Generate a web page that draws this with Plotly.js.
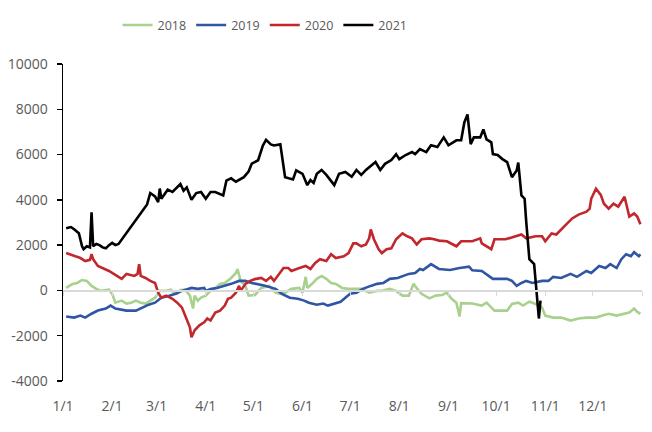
<!DOCTYPE html>
<html>
<head>
<meta charset="utf-8">
<script src="https://cdn.plot.ly/plotly-3.0.1.min.js"></script>
<style>html,body{margin:0;padding:0;background:#fff;}#chart{width:652px;height:432px;}</style>
</head>
<body>
<div id="chart"></div>
<script>
// Series names
const seriesNames = ["2018", "2019", "2020", "2021"];

// 2018
const dates2018 = ["01-03","01-07","01-10","01-13","01-16","01-19","01-22","01-25","01-30","02-01","02-03","02-07","02-10","02-13","02-16","02-19","02-22","02-25","02-28","03-03","03-07","03-10","03-12","03-14","03-16","03-19","03-22","03-24","03-25","03-27","03-29","04-01","04-04","04-07","04-10","04-13","04-17","04-20","04-21","04-23","04-26","04-28","05-02","05-06","05-11","05-15","05-18","05-21","05-25","05-30","06-01","06-03","06-04","06-07","06-10","06-13","06-16","06-19","06-22","06-26","06-30","07-05","07-08","07-13","07-18","07-21","07-26","07-30","08-03","08-07","08-10","08-12","08-15","08-20","08-24","08-28","08-31","09-03","09-06","09-08","09-09","09-16","09-22","09-25","09-30","10-08","10-11","10-15","10-18","10-22","10-26","10-30","11-01","11-06","11-11","11-17","11-22","11-27","12-03","12-07","12-11","12-16","12-19","12-24","12-27","12-29","12-31"];
const values2018 = [110,290,330,460,420,200,70,-20,30,-150,-540,-450,-580,-540,-450,-540,-580,-450,-320,-20,-20,30,-100,-150,20,30,-230,-800,-230,-450,-320,-230,-20,110,290,330,550,770,940,420,200,-230,-200,110,200,-100,-150,-100,70,110,-100,600,110,290,510,640,510,330,290,110,70,70,70,-100,-20,-20,70,-20,-230,-230,290,100,-150,-350,-230,-200,-100,-370,-540,-1150,-560,-580,-670,-540,-890,-890,-600,-540,-670,-500,-600,-760,-1110,-1200,-1200,-1330,-1240,-1200,-1200,-1110,-1030,-1110,-1050,-980,-800,-950,-1030];

// 2019
const dates2019 = ["01-03","01-08","01-12","01-15","01-19","01-23","01-28","01-31","02-03","02-10","02-16","02-20","02-24","02-28","03-04","03-09","03-13","03-17","03-23","03-27","03-31","04-01","04-04","04-08","04-13","04-17","04-22","04-26","04-30","05-03","05-09","05-15","05-19","05-24","05-29","06-02","06-05","06-10","06-14","06-17","06-21","06-25","06-28","07-01","07-05","07-09","07-14","07-18","07-22","07-26","07-31","08-03","08-07","08-11","08-14","08-16","08-21","08-26","09-02","09-08","09-14","09-16","09-22","09-29","10-08","10-11","10-14","10-17","10-20","10-24","10-30","11-03","11-06","11-11","11-17","11-21","11-27","11-30","12-05","12-09","12-12","12-16","12-19","12-22","12-25","12-27","12-30","12-31"];
const values2019 = [-1150,-1200,-1110,-1200,-1030,-890,-800,-670,-800,-890,-890,-760,-630,-540,-320,-230,-150,-20,110,70,110,-20,60,110,200,290,420,420,330,290,200,70,-150,-320,-370,-450,-540,-630,-580,-670,-580,-500,-320,-150,-100,70,200,290,330,510,550,640,730,770,950,900,1160,950,900,990,1050,890,860,510,510,420,200,330,420,330,420,420,600,550,730,600,860,770,1080,990,1160,990,1380,1600,1510,1690,1510,1600];

// 2020
const dates2020 = ["01-03","01-08","01-12","01-15","01-18","01-19","01-20","01-23","01-30","02-04","02-07","02-10","02-15","02-17","02-18","02-19","02-22","02-25","02-28","03-02","03-04","03-07","03-11","03-14","03-17","03-19","03-22","03-23","03-25","03-28","03-31","04-02","04-04","04-07","04-10","04-13","04-15","04-17","04-20","04-22","04-23","04-26","04-29","05-02","05-06","05-09","05-12","05-14","05-17","05-20","05-23","05-25","05-30","06-03","06-06","06-09","06-12","06-16","06-19","06-22","06-27","06-30","07-03","07-05","07-08","07-11","07-13","07-14","07-16","07-19","07-21","07-24","07-27","07-30","08-03","08-06","08-09","08-12","08-15","08-20","08-23","08-26","08-31","09-06","09-09","09-16","09-21","09-22","09-28","09-30","10-07","10-14","10-17","10-20","10-26","10-30","11-01","11-05","11-08","11-13","11-18","11-22","11-27","11-29","11-30","12-03","12-06","12-08","12-11","12-14","12-17","12-21","12-23","12-24","12-27","12-29","12-31"];
const values2020 = [1650,1510,1430,1300,1350,1600,1380,1080,860,640,510,730,640,730,1160,640,550,420,330,-100,-320,-230,-370,-540,-760,-1110,-1630,-2070,-1760,-1540,-1410,-1240,-1330,-980,-890,-670,-370,-320,-100,200,-20,290,420,500,550,420,600,420,730,990,990,860,990,1080,950,1210,1380,1300,1600,1430,1510,1650,2080,2080,1950,2030,2300,2690,2260,1820,1650,1820,1860,2260,2520,2390,2300,2030,2260,2300,2260,2200,2170,1950,2170,2170,2300,2080,1820,2260,2260,2390,2470,2300,2390,2390,2170,2520,2470,2830,3180,3350,3480,3610,4050,4490,4220,3830,3610,3830,3700,4140,3610,3260,3400,3260,2920];

// 2021
const dates2021 = ["01-03","01-06","01-08","01-11","01-13","01-14","01-16","01-18","01-19","01-20","01-22","01-24","01-26","01-28","01-30","02-01","02-03","02-05","02-23","02-25","02-28","03-02","03-03","03-04","03-08","03-11","03-16","03-18","03-20","03-23","03-26","03-29","04-01","04-04","04-07","04-10","04-12","04-14","04-17","04-20","04-25","04-28","04-30","05-04","05-07","05-09","05-12","05-14","05-18","05-21","05-24","05-26","05-28","06-01","06-04","06-06","06-08","06-10","06-13","06-16","06-21","06-24","06-28","07-02","07-05","07-08","07-11","07-13","07-17","07-20","07-23","07-27","07-30","08-01","08-05","08-09","08-11","08-14","08-18","08-21","08-25","08-29","09-01","09-06","09-09","09-11","09-13","09-15","09-17","09-21","09-23","09-25","09-28","09-29","10-02","10-05","10-08","10-09","10-11","10-14","10-15","10-17","10-19","10-20","10-22","10-25","10-26","10-28","10-29"];
const values2021 = [2750,2800,2700,2530,1950,1820,1950,1900,3450,1950,2050,2000,1900,1860,2000,2100,2000,2050,3800,4300,4150,3900,4500,4050,4450,4350,4700,4400,4550,4000,4300,4350,4050,4350,4350,4250,4200,4850,4950,4800,5000,5250,5600,5750,6400,6650,6450,6400,6450,5000,4950,4900,5300,5150,4650,4880,4750,5150,5320,5100,4650,5150,5230,5020,5320,5100,5320,5450,5670,5320,5590,5760,6020,5800,5980,6110,6020,6240,6110,6410,6330,6760,6410,6630,6630,7420,7770,6460,6760,6760,7110,6670,6540,6020,5980,5800,5670,5450,5000,5300,5650,4200,4050,3050,1380,1160,420,-1240,-450];

// Axis ticks
const monthTicks = ["01-01","02-01","03-01","04-01","05-01","06-01","07-01","08-01","09-01","10-01","11-01","12-01"];
const monthLabels = ["1/1","2/1","3/1","4/1","5/1","6/1","7/1","8/1","9/1","10/1","11/1","12/1"];
const yTicks = [-4000,-2000,0,2000,4000,6000,8000,10000];
const yLabels = ["-4000","-2000","0","2000","4000","6000","8000","10000"];

const colors = ["#a9d18e", "#2f55a4", "#c1272d", "#000000"];
const YEAR = "2021-";
const toDate = arr => arr.map(d => YEAR + d);

const allDates = [dates2018, dates2019, dates2020, dates2021];
const allValues = [values2018, values2019, values2020, values2021];

const traces = seriesNames.map((name, i) => ({
  type: "scatter",
  mode: "lines",
  name: name,
  x: toDate(allDates[i]),
  y: allValues[i],
  line: {color: colors[i], width: 2.6},
  hoverinfo: "x+y+name"
}));

// dummy trace for zero-line axis
traces.unshift({type: "scatter", mode: "lines", x: [], y: [], xaxis: "x2", yaxis: "y", showlegend: false, hoverinfo: "skip"});

const xRange = [YEAR + "01-01", "2022-01-01"];
const fontFam = "Open Sans, Liberation Sans, sans-serif";

const layout = {
  width: 652, height: 432,
  margin: {l: 63, r: 10, t: 61, b: 51},
  paper_bgcolor: "#ffffff", plot_bgcolor: "#ffffff",
  showlegend: true,
  legend: {orientation: "h", x: 0.349, xanchor: "center", y: 1.122, yanchor: "middle",
           font: {family: fontFam, size: 12.5, color: "#595959"}, itemwidth: 30, traceorder: "normal"},
  xaxis: {
    type: "date", range: xRange, showgrid: false, zeroline: false, showline: false,
    tickmode: "array", tickvals: toDate(monthTicks), ticktext: monthLabels,
    ticks: "outside", ticklen: 12, tickcolor: "rgba(0,0,0,0)",
    tickfont: {family: fontFam, size: 14, color: "#595959"}
  },
  xaxis2: {
    type: "date", range: xRange, overlaying: "x", anchor: "free", position: 4000/14000,
    showgrid: false, zeroline: false, showline: true, linecolor: "#d9d9d9", linewidth: 1.5,
    tickmode: "array", tickvals: toDate(monthTicks).concat(["2022-01-01"]),
    ticks: "outside", ticklen: 4, tickcolor: "#d9d9d9", tickwidth: 1, showticklabels: false
  },
  yaxis: {
    range: [-4000, 10000], tickmode: "array", tickvals: yTicks, ticktext: yLabels,
    showgrid: false, zeroline: false, showline: true, linecolor: "#000000", linewidth: 1.5,
    ticks: "outside", ticklen: 5, tickcolor: "#000000", tickwidth: 1.5, ticklabelstandoff: 6,
    tickfont: {family: fontFam, size: 14, color: "#595959"}
  }
};

Plotly.newPlot("chart", traces, layout, {displayModeBar: false, staticPlot: true});
</script>
</body>
</html>
